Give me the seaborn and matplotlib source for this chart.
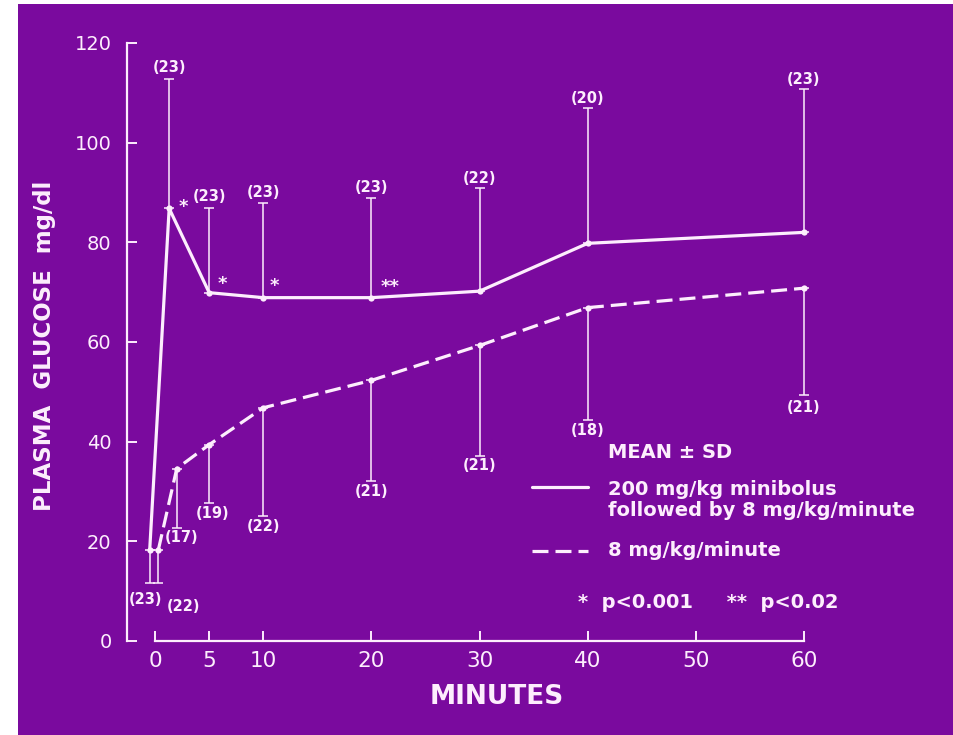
import matplotlib
matplotlib.use("Agg")
import matplotlib.pyplot as plt
from matplotlib.patches import Rectangle
from matplotlib.lines import Line2D
import pandas as pd
import seaborn as sns

# ---------------- data ----------------
bolus_time = [-0.5, 1.3, 5, 10, 20, 30, 40, 60]
bolus_mean = [18.3, 86.8, 69.9, 68.9, 68.9, 70.2, 79.8, 82.0]
bolus_sd = [6.6, 26.0, 16.9, 18.9, 19.9, 20.7, 27.1, 28.8]
bolus_n = [23, 23, 23, 23, 23, 22, 20, 23]
bolus_sig = ["", "*", "*", "*", "**", "", "", ""]

infusion_time = [0.3, 2, 5, 10, 20, 30, 40, 60]
infusion_mean = [18.3, 34.6, 39.4, 46.8, 52.3, 59.3, 66.9, 70.8]
infusion_sd = [6.6, 11.9, 11.7, 21.7, 20.1, 22.1, 22.5, 21.4]
infusion_n = [22, 17, 19, 22, 21, 21, 18, 21]

x_ticks = [0, 5, 10, 20, 30, 40, 50, 60]
y_ticks = [0, 20, 40, 60, 80, 100, 120]

label_bolus = "200 mg/kg minibolus\nfollowed by 8 mg/kg/minute"
label_infusion = "8 mg/kg/minute"

# ---------------- layout / style ----------------
W, H = 954, 735
PURPLE = "#7a0a9e"
INK = "#fdeefd"

# error bar direction (+1 up, -1 down) and n-label offsets in pixels
bolus_dir = [-1, 1, 1, 1, 1, 1, 1, 1]
infusion_dir = [-1, -1, -1, -1, -1, -1, -1, -1]
bolus_lbl_off = [(-4, -17), (0, 11), (0, 12), (0, 11), (0, 11), (0, 10), (0, 10), (0, 9)]
infusion_lbl_off = [(25, -24), (5, -10), (3, -11), (0, -11), (0, -11), (0, -10), (0, -11), (0, -13)]
sig_off = [None, (14, 1), (13, 9), (11, 12), (19, 11), None, None, None]

sns.set_theme(style="white")
plt.rcParams["font.family"] = ["DejaVu Sans"]
plt.rcParams["xtick.direction"] = "in"
plt.rcParams["ytick.direction"] = "in"

fig = plt.figure(figsize=(W / 100, H / 100), dpi=100)
fig.patch.set_facecolor("white")
fig.patches.append(Rectangle((18 / W, 0), 1 - 18 / W, 1 - 4 / H,
                             transform=fig.transFigure, facecolor=PURPLE,
                             edgecolor="none", zorder=-10))

ax_left, ax_right = 127 / W, 809.4 / W
ax_bottom, ax_top = 1 - 641 / H, 1 - 43 / H
ax = fig.add_axes([ax_left, ax_bottom, ax_right - ax_left, ax_top - ax_bottom])
ax.set_facecolor("none")

df = pd.DataFrame({
    "time": bolus_time + infusion_time,
    "glucose": bolus_mean + infusion_mean,
    "group": ["bolus"] * len(bolus_time) + ["infusion"] * len(infusion_time),
})
sns.lineplot(data=df, x="time", y="glucose", style="group",
             dashes={"bolus": "", "infusion": (5, 2.2)},
             markers={"bolus": "o", "infusion": "o"},
             color=INK, linewidth=2.3, markersize=4.5, markeredgewidth=0,
             legend=False, ax=ax, zorder=3)

def draw_bars(t, m, sd, direction):
    lower = [s if d < 0 else 0 for s, d in zip(sd, direction)]
    upper = [s if d > 0 else 0 for s, d in zip(sd, direction)]
    ax.errorbar(t, m, yerr=[lower, upper], fmt="none", ecolor=INK,
                elinewidth=1.1, capsize=3.5, capthick=1.1, zorder=2)

draw_bars(bolus_time, bolus_mean, bolus_sd, bolus_dir)
draw_bars(infusion_time, infusion_mean, infusion_sd, infusion_dir)

def n_labels(t, m, sd, direction, n, offs):
    for ti, mi, si, di, ni, (dx, dy) in zip(t, m, sd, direction, n, offs):
        ax.annotate(f"({ni})", (ti, mi + di * si), xytext=(dx, dy),
                    textcoords="offset pixels", ha="center", va="center",
                    fontsize=10.5, fontweight="bold", color=INK,
                    annotation_clip=False)

n_labels(bolus_time, bolus_mean, bolus_sd, bolus_dir, bolus_n, bolus_lbl_off)
n_labels(infusion_time, infusion_mean, infusion_sd, infusion_dir, infusion_n, infusion_lbl_off)

for ti, mi, s, off in zip(bolus_time, bolus_mean, bolus_sig, sig_off):
    if s:
        ax.annotate(s, (ti, mi), xytext=off, textcoords="offset pixels",
                    ha="center", va="center", fontsize=13, fontweight="bold",
                    color=INK)

# axes
ax.set_xlim(-2.6, 60.5)
ax.set_ylim(0, 120)
ax.set_xticks(x_ticks)
ax.set_yticks(y_ticks)
ax.set_xticklabels([str(v) for v in x_ticks])
ax.set_yticklabels([str(v) for v in y_ticks])
for side in ("top", "right"):
    ax.spines[side].set_visible(False)
ax.spines["left"].set_bounds(0, 120)
ax.spines["bottom"].set_bounds(0, 60)
for side in ("left", "bottom"):
    ax.spines[side].set_color(INK)
    ax.spines[side].set_linewidth(1.6)
ax.tick_params(axis="y", left=True, direction="in", length=7, width=1.4,
               colors=INK, labelsize=14, pad=11)
ax.tick_params(axis="x", bottom=True, direction="in", length=7, width=1.4,
               colors=INK, labelsize=15.5, pad=7)
ax.set_xlabel("MINUTES", color=INK, fontsize=19, fontweight="bold")
ax.xaxis.set_label_coords((497 - 127) / 682.4, -(697 - 641) / 598)
ax.xaxis.label.set_va("center")
ax.set_ylabel("PLASMA  GLUCOSE  mg/dl", color=INK, fontsize=16.5,
              fontweight="bold")
ax.yaxis.set_label_coords(-(127 - 45) / 682.4, (641 - 346) / 598)
ax.yaxis.label.set_va("center")
ax.grid(False)

# legend (drawn as text + sample lines)
def fx(px):
    return px / W

def fy(py):
    return 1 - py / H

leg_fs = 14
fig.text(fx(608), fy(452), "MEAN \u00b1 SD", color=INK, fontsize=leg_fs,
         fontweight="bold", va="center", ha="left")
fig.lines.append(Line2D([fx(532), fx(588)], [fy(487), fy(487)], color=INK,
                        lw=2.3, transform=fig.transFigure))
fig.text(fx(608), fy(500), label_bolus, color=INK, fontsize=leg_fs,
         fontweight="bold", va="center", ha="left", linespacing=1.15)
fig.lines.append(Line2D([fx(532), fx(588)], [fy(551), fy(551)], color=INK,
                        lw=2.3, dashes=(5, 2.2), transform=fig.transFigure))
fig.text(fx(608), fy(551), label_infusion, color=INK, fontsize=leg_fs,
         fontweight="bold", va="center", ha="left")
fig.text(fx(578), fy(603), "*  p<0.001     **  p<0.02", color=INK,
         fontsize=leg_fs, fontweight="bold", va="center", ha="left")

fig.savefig("out.png", dpi=100, facecolor=fig.get_facecolor())
